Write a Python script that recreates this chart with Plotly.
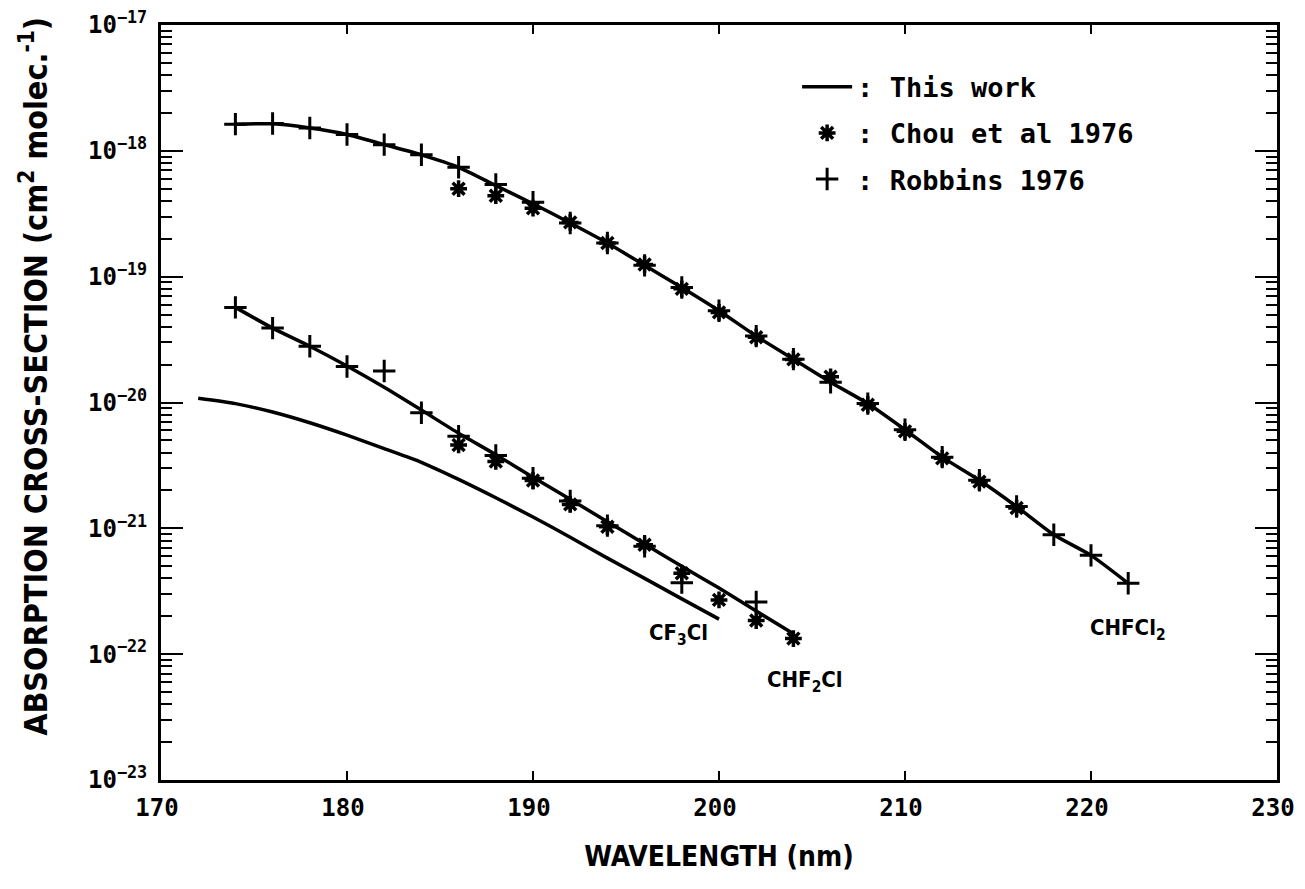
import plotly.graph_objects as go

# ---------------- data ----------------
wl_chfcl2_line = [174, 176, 178, 180, 182, 184, 186, 188, 190, 192, 194, 196, 198,
                  200, 202, 204, 206, 208, 210, 212, 214, 216, 218, 220, 222]
xs_chfcl2_line = [1.63e-18, 1.64e-18, 1.52e-18, 1.35e-18, 1.12e-18, 9.3e-19, 7.4e-19,
                  5.3e-19, 3.8e-19, 2.67e-19, 1.85e-19, 1.23e-19, 8.2e-20, 5.36e-20,
                  3.37e-20, 2.21e-20, 1.45e-20, 9.8e-21, 6.07e-21, 3.68e-21, 2.41e-21,
                  1.49e-21, 8.9e-22, 6.1e-22, 3.66e-22]

wl_chf2cl_line = [174, 176, 178, 180, 182, 184, 186, 188, 190, 192, 194, 196, 198, 200, 202, 204]
xs_chf2cl_line = [5.7e-20, 3.9e-20, 2.8e-20, 1.95e-20, 1.32e-20, 8.7e-21, 5.7e-21, 3.85e-21,
                  2.55e-21, 1.7e-21, 1.13e-21, 7.5e-22, 5.0e-22, 3.35e-22, 2.2e-22, 1.45e-22]

wl_cf3cl_line = [172, 174, 176, 178, 180, 182, 184, 186, 188, 190, 192, 194, 196, 198, 200]
xs_cf3cl_line = [1.08e-20, 9.8e-21, 8.4e-21, 6.9e-21, 5.5e-21, 4.3e-21, 3.35e-21, 2.45e-21,
                 1.75e-21, 1.23e-21, 8.5e-22, 5.8e-22, 4.0e-22, 2.75e-22, 1.9e-22]

# Chou et al 1976 (asterisks)
wl_chou_chfcl2 = [186, 188, 190, 192, 194, 196, 198, 200, 202, 204, 206, 208, 210, 212, 214, 216]
xs_chou_chfcl2 = [5.0e-19, 4.4e-19, 3.5e-19, 2.7e-19, 1.85e-19, 1.25e-19, 8.0e-20, 5.2e-20,
                  3.3e-20, 2.2e-20, 1.6e-20, 9.6e-21, 5.9e-21, 3.6e-21, 2.35e-21, 1.45e-21]
wl_chou_chf2cl = [186, 188, 190, 192, 194, 196, 198, 200, 202, 204]
xs_chou_chf2cl = [4.6e-21, 3.4e-21, 2.4e-21, 1.55e-21, 1.03e-21, 7.4e-22, 4.4e-22, 2.7e-22,
                  1.85e-22, 1.33e-22]

# Robbins 1976 (crosses)
wl_rob_chfcl2 = [174, 176, 178, 180, 182, 184, 186, 188, 190, 192, 194, 196, 198, 200,
                 202, 204, 206, 208, 210, 212, 214, 216, 218, 220, 222]
xs_rob_chfcl2 = [1.63e-18, 1.65e-18, 1.52e-18, 1.35e-18, 1.12e-18, 9.3e-19, 7.4e-19,
                 5.4e-19, 3.9e-19, 2.67e-19, 1.85e-19, 1.23e-19, 8.2e-20, 5.36e-20,
                 3.37e-20, 2.21e-20, 1.45e-20, 9.8e-21, 6.07e-21, 3.68e-21, 2.41e-21,
                 1.49e-21, 8.9e-22, 6.1e-22, 3.66e-22]
wl_rob_chf2cl = [174, 176, 178, 180, 182, 184, 186, 188, 190, 192, 194, 196, 198, 202]
xs_rob_chf2cl = [5.7e-20, 3.9e-20, 2.8e-20, 1.93e-20, 1.78e-20, 8.3e-21, 5.4e-21, 3.8e-21,
                 2.5e-21, 1.65e-21, 1.05e-21, 7.2e-22, 3.7e-22, 2.6e-22]

species_labels = ["CF<sub>3</sub>Cl", "CHF<sub>2</sub>Cl", "CHFCl<sub>2</sub>"]
species_label_x = [197.8, 204.6, 222.0]
species_label_logy = [-21.84, -22.22, -21.80]

legend_names = [": This work", ": Chou et al 1976", ": Robbins 1976"]

decades = [-23, -22, -21, -20, -19, -18, -17]
major_vals = [10.0 ** d for d in decades]
major_text = ["10<sup>−%d</sup>" % (-d) for d in decades]
minor_mult = [2, 3, 4, 5, 6, 7, 8, 9]
minor_vals = [m * 10.0 ** d for d in decades[:-1] for m in minor_mult]

y_title = "ABSORPTION CROSS-SECTION (cm<sup>2</sup> molec.<sup>-1</sup>)"
x_title = "WAVELENGTH (nm)"

# ---------------- figure ----------------
BLACK = "#000000"
LINE_W = 3.5
fig = go.Figure()

for i, (wx, wy) in enumerate([(wl_chfcl2_line, xs_chfcl2_line),
                              (wl_chf2cl_line, xs_chf2cl_line),
                              (wl_cf3cl_line, xs_cf3cl_line)]):
    fig.add_trace(go.Scatter(
        x=wx, y=wy, mode="lines", line=dict(color=BLACK, width=LINE_W, shape="spline", smoothing=0.6),
        name=legend_names[0], showlegend=(i == 0), legendgroup="a"))

chou_style = dict(symbol="asterisk-open", size=14, color=BLACK, line=dict(color=BLACK, width=3.5))
rob_style = dict(symbol="cross-thin-open", size=16, color=BLACK, line=dict(color=BLACK, width=3))

fig.add_trace(go.Scatter(x=wl_chou_chfcl2 + wl_chou_chf2cl, y=xs_chou_chfcl2 + xs_chou_chf2cl,
                         mode="markers", marker=chou_style, name=legend_names[1], legendgroup="b"))
fig.add_trace(go.Scatter(x=wl_rob_chfcl2 + wl_rob_chf2cl, y=xs_rob_chfcl2 + xs_rob_chf2cl,
                         mode="markers", marker=rob_style, name=legend_names[2], legendgroup="c"))

for txt, lx, ly in zip(species_labels, species_label_x, species_label_logy):
    fig.add_annotation(x=lx, y=ly, xref="x", yref="y", text=txt, showarrow=False,
                       font=dict(family="DejaVu Sans Condensed, DejaVu Sans", size=22, color=BLACK,
                                 weight="bold"))

tick_font = dict(family="DejaVu Sans Mono", size=24, color=BLACK, weight="bold")
title_font_y = dict(family="DejaVu Sans Condensed, DejaVu Sans", size=32, color=BLACK, weight="bold")
title_font_x = dict(family="DejaVu Sans Condensed, DejaVu Sans", size=28, color=BLACK, weight="bold")

# y-axis title placed as a rotated annotation in paper coordinates
fig.add_annotation(x=-0.114, y=0.535, xref="paper", yref="paper", text=y_title, textangle=-90,
                   showarrow=False, xanchor="center", yanchor="middle", font=title_font_y)

fig.update_xaxes(
    type="linear", range=[170, 230], dtick=10, tick0=170, automargin=False,
    showline=True, linewidth=3, linecolor=BLACK, mirror="allticks",
    ticks="inside", ticklen=9, tickwidth=2, tickcolor=BLACK, ticklabeloverflow="allow",
    ticklabelshift=-4,
    showgrid=False, zeroline=False, tickfont=tick_font, ticklabelstandoff=4,
    title=dict(text=x_title, font=title_font_x, standoff=26),
)
fig.update_yaxes(
    type="log", range=[-23, -17], tickmode="array", tickvals=major_vals, ticktext=major_text,
    automargin=False, ticklabeloverflow="allow",
    showline=True, linewidth=3, linecolor=BLACK, mirror="allticks",
    ticks="inside", ticklen=22, tickwidth=2, tickcolor=BLACK,
    minor=dict(ticks="inside", ticklen=11, tickwidth=2, tickcolor=BLACK,
               tickvals=minor_vals, showgrid=False),
    showgrid=False, zeroline=False, tickfont=tick_font, ticklabelstandoff=6,
)

fig.update_layout(
    width=1289, height=873,
    margin=dict(l=153, r=20, t=17, b=101),
    paper_bgcolor="white", plot_bgcolor="white",
    legend=dict(x=0.57, y=0.95, xanchor="left", yanchor="top", bgcolor="rgba(0,0,0,0)",
                font=dict(family="DejaVu Sans Mono", size=27, color=BLACK, weight="bold"),
                traceorder="grouped", tracegroupgap=8, itemwidth=50),
    showlegend=True,
)

fig.write_html("out.html")
